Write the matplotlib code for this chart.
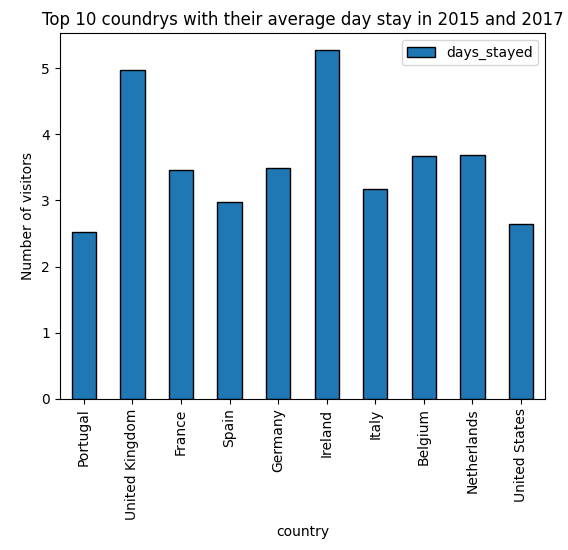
import pandas as pd
import matplotlib
matplotlib.use("Agg")
import matplotlib.pyplot as plt

countries = ["Portugal", "United Kingdom", "France", "Spain", "Germany",
             "Ireland", "Italy", "Belgium", "Netherlands", "United States"]
days_stayed = [2.52, 4.98, 3.46, 2.98, 3.49, 5.27, 3.17, 3.67, 3.69, 2.64]

df = pd.DataFrame({"country": countries, "days_stayed": days_stayed}).set_index("country")

fig, ax = plt.subplots(figsize=(5.68, 5.5), dpi=100)
df.plot(kind="bar", ax=ax, edgecolor="black")
ax.set_title("Top 10 coundrys with their average day stay in 2015 and 2017")
ax.set_ylabel("Number of visitors")
ax.set_xlabel("country")
fig.subplots_adjust(left=0.105, right=0.96, top=0.94, bottom=0.275)
fig.savefig("out.png")
